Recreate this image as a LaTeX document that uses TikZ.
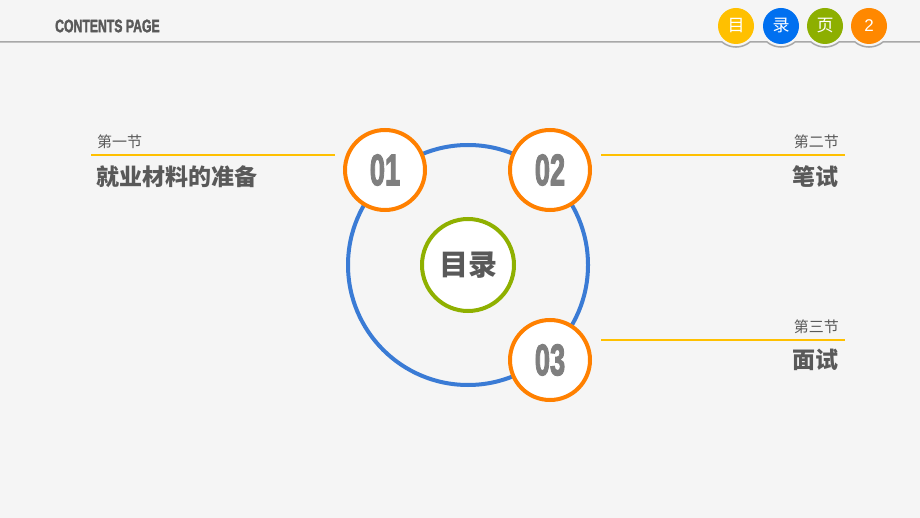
\documentclass[tikz,border=0pt]{standalone}
\usepackage{fontspec}
\setmainfont{Liberation Sans}
\newfontfamily\cjk{Noto Sans CJK SC}
\newfontfamily\heavy{Liberation Sans Bold}[FakeBold=3]
\newfontfamily\heavyhdr{Liberation Sans Bold}[FakeBold=2.5]
\usepackage{graphicx}
\definecolor{bg}{HTML}{F5F5F5}
\definecolor{txtgray}{HTML}{595959}
\definecolor{numgray}{HTML}{7F7F7F}
\definecolor{ringblue}{HTML}{3A7BD5}
\definecolor{ringorange}{HTML}{FF8000}
\definecolor{ringgreen}{HTML}{8FB000}
\definecolor{lineyellow}{HTML}{FFC000}
\definecolor{headline}{HTML}{A8A8A8}
\definecolor{tabyellow}{HTML}{FFC000}
\definecolor{tabblue}{HTML}{0070F0}
\definecolor{tabgreen}{HTML}{8DAF00}
\definecolor{taborange}{HTML}{FF8800}
\tikzset{
  numcircle/.style={circle,draw=ringorange,line width=4pt,fill=white,minimum size=80pt,inner sep=0pt},
  tab/.style={circle,minimum size=36pt,inner sep=0pt,text=white,font=\cjk\fontsize{17}{17}\selectfont},
  seclabel/.style={text=txtgray,font=\cjk\fontsize{15}{15}\selectfont,inner sep=0pt},
  sectitle/.style={text=txtgray,font=\cjk\bfseries\fontsize{23}{23}\selectfont,inner sep=0pt},
  secline/.style={draw=lineyellow,line width=2pt}
}
\newcommand{\numtxt}[1]{\scalebox{0.62}[1]{\color{numgray}\heavy\fontsize{44}{44}\selectfont #1}}
\begin{document}
\begin{tikzpicture}[x=1pt,y=-1pt]
\useasboundingbox[fill=bg] (0,0) rectangle (920,518);
% header
\node[anchor=west,inner sep=0pt,text=txtgray] (hdr) at (55,26)
  {\scalebox{0.68}[1]{\heavyhdr\fontsize{18}{18}\selectfont CONTENTS PAGE}};
\draw[headline,line width=1.5pt]
  (0,42) -- (722,42)
  arc[start angle=129.5,end angle=50.5,radius=22] -- (767,42)
  arc[start angle=129.5,end angle=50.5,radius=22] -- (811,42)
  arc[start angle=129.5,end angle=50.5,radius=22] -- (855,42)
  arc[start angle=129.5,end angle=50.5,radius=22] -- (920,42);
\node[tab,fill=tabyellow] (t1) at (736,26) {目};
\node[tab,fill=tabblue] (t2) at (781,26) {录};
\node[tab,fill=tabgreen] (t3) at (825,26) {页};
\node[tab,fill=taborange,font=\fontsize{17}{17}\selectfont] (t4) at (869,26) {2};
% section lines
\coordinate (l1a) at (91,155); \coordinate (l1b) at (335,155);
\coordinate (l2a) at (601,155); \coordinate (l2b) at (845,155);
\coordinate (l3a) at (601,340); \coordinate (l3b) at (845,340);
\draw[secline] (l1a) -- (l1b);
\draw[secline] (l2a) -- (l2b);
\draw[secline] (l3a) -- (l3b);
% texts
\node[seclabel,anchor=west] (s1) at (97,142) {第一节};
\node[sectitle,anchor=west] (s1t) at (96,177) {就业材料的准备};
\node[seclabel,anchor=east] (s2) at (839,142) {第二节};
\node[sectitle,anchor=east] (s2t) at (839,177) {笔试};
\node[seclabel,anchor=east] (s3) at (839,327) {第三节};
\node[sectitle,anchor=east] (s3t) at (839,360) {面试};
% rings
\node[circle,draw=ringblue,line width=4pt,minimum size=240pt,inner sep=0pt] (ring) at (468,265) {};
\node[numcircle] (n1) at (385,170) {\numtxt{01}};
\node[numcircle] (n2) at (550,170) {\numtxt{02}};
\node[numcircle] (n3) at (550,360) {\numtxt{03}};
\node[circle,draw=ringgreen,line width=4pt,fill=white,minimum size=92pt,inner sep=0pt,text=txtgray,font=\cjk\bfseries\fontsize{29}{29}\selectfont] (ctr) at (468,265) {目录};
\end{tikzpicture}
\end{document}
